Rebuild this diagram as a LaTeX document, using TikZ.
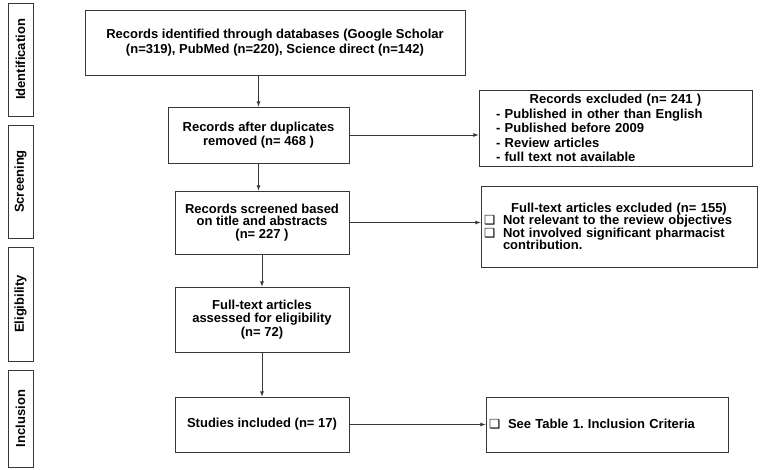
\documentclass[tikz,border=0pt]{standalone}
\usepackage{fontspec}
\setmainfont{Liberation Sans}
\newfontfamily\dingfont{DejaVu Sans}
\usepackage{xcolor}
\usetikzlibrary{calc}
\definecolor{prisma-grey}{RGB}{55, 55, 55}
\newcommand{\boxmark}{{\dingfont\fontsize{12.5}{12.5}\selectfont\char"2751}}
\frenchspacing

\begin{document}
\begin{tikzpicture}[x = 1pt, y = -1pt,
    stagebox/.style = {draw = prisma-grey, line width = 0.8pt, rotate = 90, minimum height = 25pt, inner sep = 0pt,
      font = \bfseries\fontsize{13}{15}\selectfont},
    flowbox/.style = {draw = prisma-grey, line width = 0.8pt, align = center, inner sep = 0pt,
      font = \bfseries\fontsize{13}{13.5}\selectfont},
    notebox/.style = {draw = prisma-grey, line width = 0.8pt, inner sep = 3pt,
      font = \bfseries\fontsize{13}{14.5}\selectfont},
    arr/.style = {-latex, prisma-grey, line width = 0.8pt}]
          \useasboundingbox (0, 0) rectangle (764, 470);

          % stage column
          \node[stagebox, minimum width = 113pt] (identification) at (20.5, 59.5) {Identification};
          \node[stagebox, minimum width = 113pt] (screening) at (20.5, 181.5) {Screening};
          \node[stagebox, minimum width = 114pt] (eligibility) at (20.5, 304) {Eligibility};
          \node[stagebox, minimum width = 97pt] (inclusion) at (20.5, 418.5) {Inclusion};

          % main flow
          \node[flowbox, minimum width = 380pt, minimum height = 65pt, font = \bfseries\fontsize{13}{14.5}\selectfont] (records) at (275, 42.5)
            {Records identified through databases (Google Scholar\\(n=319), PubMed (n=220), Science direct (n=142)};
          \node[flowbox, minimum width = 181pt, minimum height = 56pt] (dup) at (258.5, 135)
            {Records after duplicates\\removed (n= 468 )};
          \node[flowbox, minimum width = 174pt, minimum height = 63pt, font = \bfseries\fontsize{13}{12.5}\selectfont] (screened) at (262, 222.5)
            {Records screened based\\on title and abstracts\\(n= 227 )};
          \node[flowbox, minimum width = 174pt, minimum height = 65pt] (fulltext) at (262, 319.5)
            {Full-text articles\\assessed for eligibility\\(n= 72)};
          \node[flowbox, minimum width = 174pt, minimum height = 55pt] (included) at (262, 424.5)
            {Studies included (n= 17)};

          % side notes
          \node[notebox, text width = 267pt, minimum height = 76pt] (excluded) at (615.5, 128)
            {\parindent = 0pt {\centering Records excluded (n= 241 )\par}
             \leftskip = 14pt - Published in other than English\par
             - Published before 2009\par
             - Review articles\par
             - full text not available\par};
          \node[notebox, text width = 270pt, minimum height = 81pt, font = \bfseries\fontsize{13}{12.5}\selectfont] (ftexcluded) at (619, 226.5)
            {\parindent = 0pt \raggedright {\centering Full-text articles excluded (n= 155)\par}
             \hangindent = 19pt \hangafter = 1 \makebox[19pt][l]{\boxmark}Not relevant to the review objectives\par
             \hangindent = 19pt \hangafter = 1 \makebox[19pt][l]{\boxmark}Not involved significant pharmacist\newline contribution.\par};
          \node[notebox, text width = 236pt, minimum height = 55pt] (criteria) at (607, 424.5)
            {\parindent = 0pt \makebox[19pt][l]{\boxmark}See Table 1. Inclusion Criteria};

          \draw[arr] (records.south -| dup.north) -- (dup.north);
          \draw[arr] (dup.south) -- (dup.south |- screened.north);
          \draw[arr] (screened.south) -- (fulltext.north);
          \draw[arr] (fulltext.south) -- (included.north);

          \draw[arr] (dup.east) -- (dup.east -| excluded.west);
          \draw[arr] (screened.east) -- (screened.east -| ftexcluded.west);
          \draw[arr] (included.east) -- (included.east -| criteria.west);
        \end{tikzpicture}
\end{document}
